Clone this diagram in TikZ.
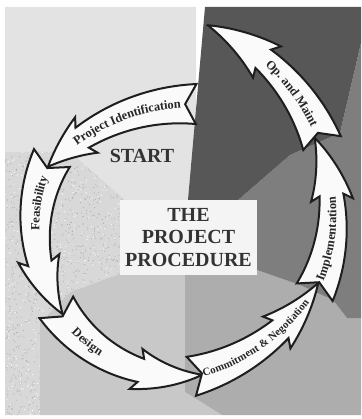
\documentclass[tikz,border=0pt]{standalone}
\usepackage{fontspec}
\setmainfont{Liberation Serif}
\usetikzlibrary{decorations.text}

\definecolor{bgtop}{HTML}{E3E3E3}
\definecolor{bgstipple}{HTML}{D8D8D8}
\definecolor{bgspeck}{HTML}{ACACAC}
\definecolor{bglow}{HTML}{C8C8C8}
\definecolor{bglowmid}{HTML}{ADADAD}
\definecolor{bgmid}{HTML}{7E7E7E}
\definecolor{bgdark}{HTML}{575757}
\definecolor{boxwhite}{HTML}{F4F4F4}
\definecolor{arrowfill}{HTML}{FAFAFA}
\definecolor{arrowline}{HTML}{1E1E1E}
\definecolor{titleink}{HTML}{333333}
\definecolor{labelink}{HTML}{262626}

% shape parameters of the phase arrows (pixels)
\newcommand{\PAtail}{20}   % half width at the tail
\newcommand{\PAbody}{12}   % half width where the head starts
\newcommand{\PAhead}{21}   % half width of the barbs
\newcommand{\PAsweep}{5}   % barbs swept back
\newcommand{\PAnotch}{11}  % depth of the tail notch

% curved block arrow along a circle: centre (#1,#2), radius #3,
% tail angle #4, tip angle #5, head length #6
\newcommand{\phasearrow}[6]{%
  \pgfmathsetmacro{\PAs}{(#5>#4)?1:-1}%
  \pgfmathsetmacro{\PAk}{180/(pi*#3)}%
  \pgfmathsetmacro{\PAb}{#5-\PAs*#6*\PAk}%
  \pgfmathsetmacro{\PAbb}{\PAb-\PAs*\PAsweep*\PAk}%
  \pgfmathsetmacro{\PAn}{#4+\PAs*\PAnotch*\PAk}%
  \filldraw[phase arrow]
    plot[domain=#4:\PAb, samples=24, variable=\t]
      ({#1+(#3+\PAtail-(\PAtail-\PAbody)*(\t-(#4))/(\PAb-(#4)))*cos(\t)},
       {#2+(#3+\PAtail-(\PAtail-\PAbody)*(\t-(#4))/(\PAb-(#4)))*sin(\t)})
    -- plot[domain=\PAbb:#5, samples=18, variable=\t]
      ({#1+(#3+\PAhead*(\t-(#5))/(\PAbb-(#5)))*cos(\t)},
       {#2+(#3+\PAhead*(\t-(#5))/(\PAbb-(#5)))*sin(\t)})
    -- plot[domain=#5:\PAbb, samples=18, variable=\t]
      ({#1+(#3-\PAhead*(\t-(#5))/(\PAbb-(#5)))*cos(\t)},
       {#2+(#3-\PAhead*(\t-(#5))/(\PAbb-(#5)))*sin(\t)})
    -- plot[domain=\PAb:#4, samples=24, variable=\t]
      ({#1+(#3-\PAtail+(\PAtail-\PAbody)*(\t-(#4))/(\PAb-(#4)))*cos(\t)},
       {#2+(#3-\PAtail+(\PAtail-\PAbody)*(\t-(#4))/(\PAb-(#4)))*sin(\t)})
    -- ({#1+#3*cos(\PAn)},{#2+#3*sin(\PAn)}) -- cycle;
}

% label set along the middle line of a phase arrow:
% centre (#1,#2), radius #3, from angle #4 to #5, font size #6, text #7
\newcommand{\phaselabel}[7]{%
  \path[decorate, decoration={text along path, text align=center,
      raise=-3.8pt, text color=labelink,
      text={|\bfseries\fontsize{#6}{#6}\selectfont|#7}}]
    ({#1+#3*cos(#4)},{#2+#3*sin(#4)}) arc[start angle=#4, end angle=#5, radius=#3];
}

\begin{document}
\begin{tikzpicture}[x=1pt, y=-1pt,
  phase arrow/.style={fill=arrowfill, draw=arrowline, line width=2pt,
    line join=miter, miter limit=4},
  procbox/.style={fill=boxwhite, inner sep=0pt, minimum width=137,
    minimum height=74, align=center, text=titleink,
    font=\bfseries\fontsize{20}{22.5}\selectfont},
  bigtitle/.style={text=titleink, inner sep=0pt,
    font=\bfseries\fontsize{20}{22}\selectfont}]

\useasboundingbox (0,0) rectangle (361,419);
\fill[white] (0,0) rectangle (361,419);

% background panels
\fill[bgtop] (5,7) -- (196,7) -- (196,200) -- (123,200) -- (70,152) -- (5,152) -- cycle;
\begin{scope}
  \clip (5,152) -- (70,152) -- (125,200) -- (125,272) -- (70,292) -- (40,323)
    -- (40,415) -- (5,415) -- cycle;
  \fill[bgstipple] (0,140) rectangle (130,419);
  \pgfmathsetseed{42}
  \foreach \k in {1,...,1300} {
    \pgfmathsetmacro{\sx}{3+128*rnd}
    \pgfmathsetmacro{\sy}{150+268*rnd}
    \fill[bgspeck] (\sx,\sy) circle[radius=0.55];
  }
  \foreach \k in {1,...,500} {
    \pgfmathsetmacro{\sx}{3+128*rnd}
    \pgfmathsetmacro{\sy}{150+268*rnd}
    \fill[white] (\sx,\sy) circle[radius=0.6];
  }
\end{scope}
\fill[bglow] (40,415) -- (40,323) -- (70,292) -- (125,272) -- (185,272)
  -- (185,392) -- (222,415) -- cycle;
\fill[bglowmid] (185,272) -- (257,270) -- (300,285) -- (333,300) -- (347,318)
  -- (361,318) -- (361,415) -- (222,415) -- (185,392) -- cycle;
\fill[bgmid] (361,43) -- (361,318) -- (347,318) -- (333,300) -- (300,285)
  -- (257,270) -- (257,200) -- (238,200) -- (290,155) -- (340,133) -- cycle;
\fill[bgdark] (205,7) -- (361,7) -- (361,43) -- (340,133) -- (290,155)
  -- (238,200) -- (188,200) -- cycle;

% title box and start mark
\node[procbox] (procedure) at (188.5,237.5) {THE\\PROJECT\\PROCEDURE};
\node[bigtitle, anchor=base] (start) at (142,163) {START};

% the six phases of the cycle
\phasearrow{193}{303}{199}{-89.1}{-136.8}{45}
\phasearrow{189}{227}{153.5}{206.7}{145.4}{56}
\phasearrow{182}{227}{149.2}{147.4}{82.2}{62}
\phasearrow{144}{179}{202.9}{76.5}{30.8}{60}
\phasearrow{157}{215}{175.6}{26.1}{-26.1}{60}
\phasearrow{132}{213}{202.5}{-20.2}{-68}{65}

\phaselabel{193}{303}{199}{-135}{-85}{12.5}{Project Identification}
\phaselabel{189}{227}{153.5}{166}{212}{12.5}{Feasibility}
\phaselabel{182}{227}{149.2}{146}{113}{12.5}{Design}
\phaselabel{144}{179}{202.9}{84}{26}{10.8}{Commitment {\&} Negotiation}
\phaselabel{157}{215}{175.6}{38}{-22}{12.5}{Implementation}
\phaselabel{132}{213}{202.5}{-59}{-14.6}{12.5}{Op. and Maint}

\end{tikzpicture}
\end{document}
